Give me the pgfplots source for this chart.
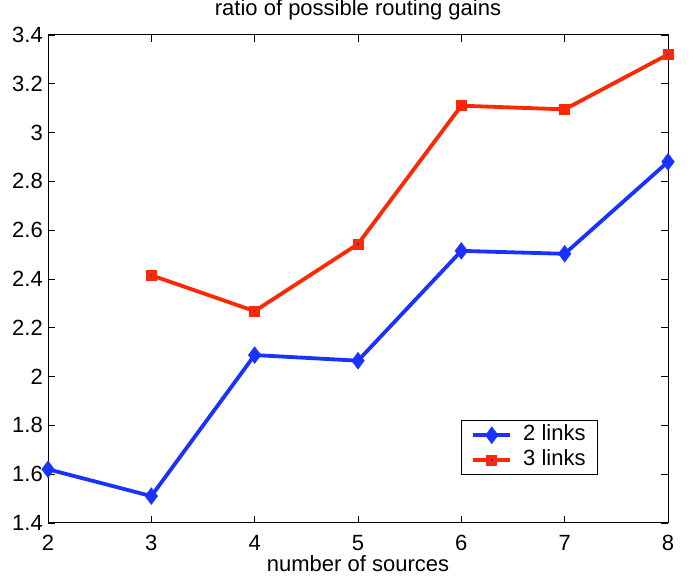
\documentclass[border=0pt]{standalone}
\usepackage{pgfplots}
\pgfplotsset{compat=1.18}
\usepackage{fontspec}
\setmainfont{Liberation Sans}
\definecolor{mblue}{RGB}{25,50,255}
\definecolor{mred}{RGB}{255,40,5}
\pgfdeclareplotmark{sqdot}{%
  \pgfsetfillcolor{mred}%
  \pgfpathrectangle{\pgfpoint{-\pgfplotmarksize}{-\pgfplotmarksize}}{\pgfpoint{2\pgfplotmarksize}{2\pgfplotmarksize}}%
  \pgfusepathqfill
  \pgfsetfillcolor{mblue}%
  \pgfpathrectangle{\pgfpoint{-0.8pt}{-0.8pt}}{\pgfpoint{1.6pt}{1.6pt}}%
  \pgfusepathqfill}
\begin{document}
\begin{tikzpicture}
\begin{axis}[
  name=ax,
  width=620pt, height=488pt, scale only axis,
  xmin=2, xmax=8, ymin=1.4, ymax=3.4,
  xtick={2,...,8},
  ytick={1.4,1.6,...,3.41},
  yticklabel style={/pgf/number format/fixed,/pgf/number format/precision=1,
    inner sep=0pt, anchor=east, xshift=-5pt},
  xticklabel style={inner sep=0pt, anchor=north, yshift=-12pt},
  /pgf/number format/assume math mode=true,
  tick align=inside,
  major tick length=7pt,
  tick style={black, line width=0.8pt},
  axis line style={line width=0.9pt},
  every tick label/.append style={font=\fontsize{22}{26}\selectfont},
  title={ratio of possible routing gains},
  title style={font=\fontsize{22}{26}\selectfont, at={(axis description cs:0.5,1)},
    anchor=base, inner sep=0pt, yshift=13pt},
  xlabel={number of sources},
  xlabel style={font=\fontsize{22}{26}\selectfont, at={(axis description cs:0.5,0)},
    anchor=base, inner sep=0pt, yshift=-49pt},
  legend style={at={(0.887,0.098)}, anchor=south east, draw=black, line width=0.8pt,
    font=\fontsize{22}{26}\selectfont, inner xsep=10pt, inner ysep=2pt,
    row sep=0pt, column sep=9pt,
    nodes={inner sep=2pt, text height=16pt, text depth=5pt}},
  legend cell align=left,
  legend image code/.code={%
    \draw[mark repeat=2,mark phase=2] plot coordinates {(0pt,0pt) (18.5pt,0pt) (37pt,0pt)};},
  clip=false,
]
\addplot[mblue, line width=3.8pt, mark=diamond*, mark size=8.5pt, mark options={solid, line width=0.3pt}]
  coordinates {(2,1.62) (3,1.51) (4,2.088) (5,2.065) (6,2.515) (7,2.503) (8,2.88)};
\addlegendentry{2 links}
\addplot[mred, line width=3.8pt, mark=sqdot, mark size=5.5pt, mark options={solid}]
  coordinates {(3,2.415) (4,2.268) (5,2.543) (6,3.11) (7,3.095) (8,3.32)};
\addlegendentry{3 links}
\end{axis}
\path ([xshift=-48pt,yshift=-59pt]ax.south west) rectangle ([xshift=26pt,yshift=33pt]ax.north east);
\end{tikzpicture}
\end{document}
